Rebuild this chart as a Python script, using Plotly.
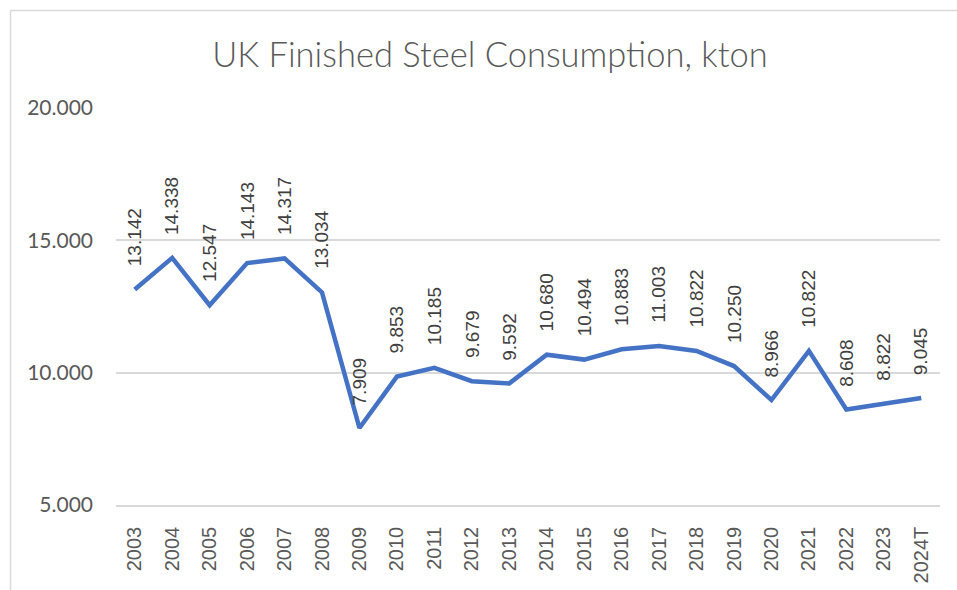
import plotly.graph_objects as go

years = ["2003", "2004", "2005", "2006", "2007", "2008", "2009", "2010", "2011", "2012",
         "2013", "2014", "2015", "2016", "2017", "2018", "2019", "2020", "2021", "2022",
         "2023", "2024T"]
consumption = [13142, 14338, 12547, 14143, 14317, 13034, 7909, 9853, 10185, 9679,
               9592, 10680, 10494, 10883, 11003, 10822, 10250, 8966, 10822, 8608,
               8822, 9045]
y_ticks = [5000, 10000, 15000, 20000]

def fmt(v):
    return f"{v:,}".replace(",", ".")

fig = go.Figure()
fig.add_trace(go.Scatter(
    x=years, y=consumption, mode="lines",
    line=dict(color="#4472C4", width=4.5),
    hoverinfo="x+y",
))

for i, v in enumerate(consumption):
    fig.add_annotation(
        x=i, y=v, text=fmt(v), textangle=-90, showarrow=False,
        xanchor="center", yanchor="bottom", yshift=21,
        font=dict(family="Liberation Sans, Arial, sans-serif", size=19, color="#404040"),
    )

L, R, T, B = 116, 17, 108, 85
W, H = 957, 590
pw, ph = W - L - R, H - T - B

def px2paper_x(px):
    return (px - L) / pw

def px2paper_y(py):
    return (H - B - py) / ph

# chart frame (left + top edges visible)
fig.add_shape(type="line", xref="paper", yref="paper",
              x0=px2paper_x(10.5), y0=px2paper_y(600), x1=px2paper_x(10.5), y1=px2paper_y(10.5),
              line=dict(color="#d9d9d9", width=1.5))
fig.add_shape(type="line", xref="paper", yref="paper",
              x0=px2paper_x(10.5), y0=px2paper_y(10.5), x1=px2paper_x(970), y1=px2paper_y(10.5),
              line=dict(color="#d9d9d9", width=1.5))

fig.update_layout(
    width=W, height=H,
    margin=dict(l=L, r=R, t=T, b=B, autoexpand=False),
    paper_bgcolor="white", plot_bgcolor="white",
    showlegend=False,
    separators=",.",
    title=dict(
        text="UK Finished Steel Consumption, kton",
        x=490 / W, xref="container", xanchor="center",
        y=1 - 55 / H, yref="container", yanchor="middle",
        font=dict(family="Lato, sans-serif", size=34.5, color="#595959", weight=300),
    ),
    xaxis=dict(
        type="category", range=[-0.5, len(years) - 0.5], automargin=False,
        tickangle=-90, showgrid=False,
        showline=True, linecolor="#d9d9d9", linewidth=1.5,
        ticks="", ticklabelstandoff=12,
        tickfont=dict(family="Liberation Sans, Arial, sans-serif", size=20, color="#595959"),
    ),
    yaxis=dict(
        range=[5000, 20000], tickvals=y_ticks, tickformat=",d", automargin=False,
        showgrid=True, gridcolor="#d9d9d9", gridwidth=1.5,
        zeroline=False, showline=False, ticks="",
        ticklabelstandoff=22,
        tickfont=dict(family="Lato, sans-serif", size=21, color="#595959"),
    ),
)

fig.write_html("out.html", config={"displayModeBar": False},
               post_script="document.body.style.margin='0';")
